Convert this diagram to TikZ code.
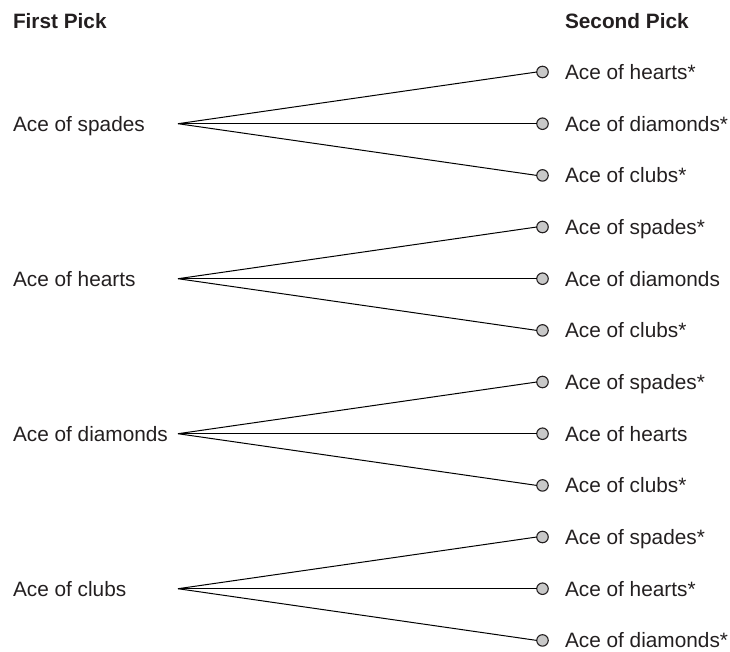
\documentclass[tikz,border=0pt]{standalone}
\usepackage{fontspec}
\setmainfont{Liberation Sans}
\definecolor{ink}{HTML}{231F20}
\definecolor{dotfill}{HTML}{C8C8C8}
\begin{document}
\begin{tikzpicture}[x=1pt,y=-1pt,
  every node/.style={inner sep=0pt,outer sep=0pt},
  label/.style={anchor=base west,text=ink,font=\fontsize{20.8}{25}\selectfont},
  heading/.style={label,font=\fontsize{20.8}{25}\selectfont\bfseries},
  leaf/.style={circle,draw=ink,fill=dotfill,line width=1.1pt,minimum size=11.5pt},
  branch/.style={draw=black,line width=1pt}]
\useasboundingbox (0,0) rectangle (730,651);

% column headings
\node[heading] (h1) at (13,28) {First Pick};
\node[heading] (h2) at (565,28) {Second Pick};

% first picks, each with three possible second picks
\foreach \c/\first/\sa/\sb/\sc/\i in {
    123.7/Ace of spades/Ace of hearts*/Ace of diamonds*/Ace of clubs*/1,
    278.7/Ace of hearts/Ace of spades*/Ace of diamonds/Ace of clubs*/2,
    433.7/Ace of diamonds/Ace of spades*/Ace of hearts/Ace of clubs*/3,
    588.7/Ace of clubs/Ace of spades*/Ace of hearts*/Ace of diamonds*/4}{
  \node[label] (f\i) at (13,\c+7.5) {\first};
  \coordinate (root\i) at (178,\c);
  \node[leaf] (d\i a) at (542.5,\c-51.7) {};
  \node[leaf] (d\i b) at (542.5,\c) {};
  \node[leaf] (d\i c) at (542.5,\c+51.7) {};
  \node[label] (s\i a) at (565,\c-44.2) {\sa};
  \node[label] (s\i b) at (565,\c+7.5) {\sb};
  \node[label] (s\i c) at (565,\c+59.2) {\sc};
  \draw[branch] (root\i) -- (d\i a.west);
  \draw[branch] (root\i) -- (d\i b.west);
  \draw[branch] (root\i) -- (d\i c.west);
}
\end{tikzpicture}
\end{document}
